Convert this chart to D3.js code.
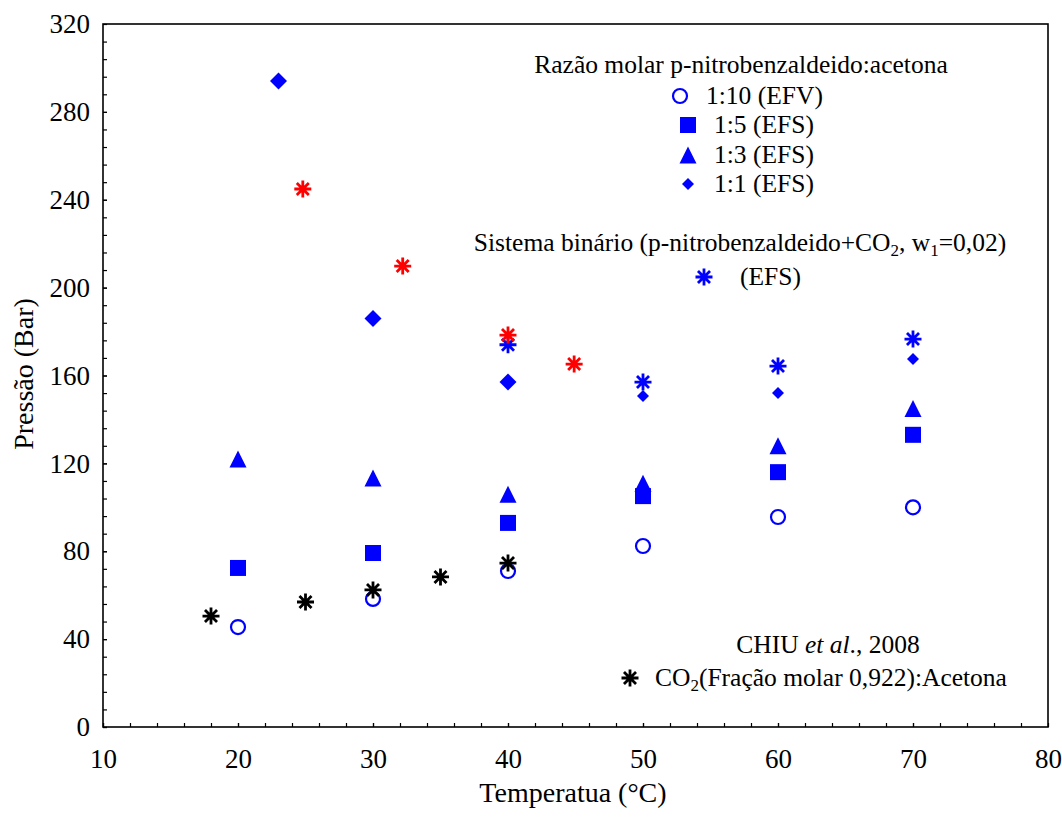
<!DOCTYPE html>
<html>
<head>
<meta charset="utf-8">
<script src="https://cdn.jsdelivr.net/npm/d3@7"></script>
<style>
  html, body { margin: 0; padding: 0; background: #fff; }
  svg text { font-family: "Liberation Serif", "Times New Roman", serif; fill: #000; }
</style>
</head>
<body>
<div id="chart"></div>
<script>
// Pressão x Temperatura - p-nitrobenzaldeido / acetona / CO2
const xTicks = [10, 20, 30, 40, 50, 60, 70, 80];
const yTicks = [0, 40, 80, 120, 160, 200, 240, 280, 320];

// razão molar 1:10 (EFV)
const temps110 = [20, 30, 40, 50, 60, 70];
const press110 = [45.5, 58.3, 71, 82.4, 95.6, 100];
// 1:5 (EFS)
const temps15 = [20, 30, 40, 50, 60, 70];
const press15 = [72.4, 79.2, 92.9, 105.1, 116, 133];
// 1:3 (EFS)
const temps13 = [20, 30, 40, 50, 60, 70];
const press13 = [122, 113.3, 106, 111, 128, 145];
// 1:1 (EFS) - first points drawn bigger in the original
const temps11a = [23, 30, 40];
const press11a = [294, 186, 157];
const temps11b = [50, 60, 70];
const press11b = [150.7, 152, 167.5];
// sistema binário (EFS), blue and red sets
const tempsBinBlue = [40, 50, 60, 70];
const pressBinBlue = [174, 157, 164.3, 176.6];
const tempsBinRed = [24.8, 32.2, 40, 44.9];
const pressBinRed = [244.9, 209.8, 178.4, 165.2];
// CHIU et al., 2008
const tempsChiu = [18, 25, 30, 35, 40];
const pressChiu = [50.5, 56.9, 62.4, 68.3, 74.6];

const BLUE = "#0000ff";
const RED = "#ff0000";

const width = 1062, height = 818;
const margin = { top: 24, right: 14, bottom: 91, left: 103 };

const svg = d3.select("#chart").append("svg")
  .attr("width", width).attr("height", height);

const x = d3.scaleLinear().domain([10, 80]).range([margin.left, width - margin.right]);
const y = d3.scaleLinear().domain([0, 320]).range([height - margin.bottom, margin.top]);

function pairs(ts, ps) {
  return ts.map((t, i) => ({ t, p: ps[i] }));
}

// asterisk with 8 spokes
function asteriskPath(r) {
  const d = r * Math.SQRT1_2;
  return `M0,${-r}L0,${r}M${-r},0L${r},0M${-d},${-d}L${d},${d}M${-d},${d}L${d},${-d}`;
}

function drawMarker(g, kind, color, size) {
  if (kind === "circle") {
    g.append("circle").attr("r", size / 2).attr("fill", "none")
      .attr("stroke", color).attr("stroke-width", 2.2);
  } else if (kind === "square") {
    g.append("rect").attr("x", -size / 2).attr("y", -size / 2)
      .attr("width", size).attr("height", size).attr("fill", color);
  } else if (kind === "triangle") {
    const h = size;
    g.append("path").attr("d", `M0,${-h / 2}L${size / 2},${h / 2}L${-size / 2},${h / 2}Z`)
      .attr("fill", color);
  } else if (kind === "diamond") {
    const r = size / 2;
    g.append("path").attr("d", `M0,${-r}L${r},0L0,${r}L${-r},0Z`).attr("fill", color);
  } else if (kind === "asterisk") {
    g.append("path").attr("d", asteriskPath(size / 2)).attr("fill", "none")
      .attr("stroke", color).attr("stroke-width", 2.8);
  }
}

// frame
svg.append("rect")
  .attr("x", x(10)).attr("y", y(320))
  .attr("width", x(80) - x(10)).attr("height", y(0) - y(320))
  .attr("fill", "none").attr("stroke", "#000").attr("stroke-width", 1.6);

// axes: inward ticks
const xAxis = svg.append("g").attr("transform", `translate(0,${y(0)})`)
  .call(d3.axisBottom(x).tickValues(xTicks).tickSize(-4).tickPadding(22).tickFormat(d3.format("d")));
const xMinor = svg.append("g").attr("transform", `translate(0,${y(0)})`)
  .call(d3.axisBottom(x).tickValues(d3.range(10, 80, 2)).tickSize(-4).tickFormat(""));
const yAxis = svg.append("g").attr("transform", `translate(${x(10)},0)`)
  .call(d3.axisLeft(y).tickValues(yTicks).tickSize(-4).tickPadding(13).tickFormat(d3.format("d")));
const yMinor = svg.append("g").attr("transform", `translate(${x(10)},0)`)
  .call(d3.axisLeft(y).tickValues(d3.range(0, 320, 8)).tickSize(-4).tickFormat(""));

[xAxis, xMinor, yAxis, yMinor].forEach((a) => {
  a.select(".domain").remove();
  a.selectAll("line").attr("stroke", "#000").attr("stroke-width", 1.2);
  a.selectAll("text").attr("font-size", 27).attr("font-family", null).attr("fill", "#000");
});

// axis titles
svg.append("text")
  .attr("x", 573).attr("y", 802)
  .attr("text-anchor", "middle").attr("font-size", 28)
  .text("Temperatua (°C)");
svg.append("text")
  .attr("transform", "translate(33,374) rotate(-90)")
  .attr("text-anchor", "middle").attr("font-size", 28)
  .text("Pressão (Bar)");

// data series
const series = [
  { data: pairs(temps110, press110), kind: "circle", color: BLUE, size: 14 },
  { data: pairs(temps15, press15), kind: "square", color: BLUE, size: 16 },
  { data: pairs(temps13, press13), kind: "triangle", color: BLUE, size: 17 },
  { data: pairs(temps11a, press11a), kind: "diamond", color: BLUE, size: 17 },
  { data: pairs(temps11b, press11b), kind: "diamond", color: BLUE, size: 12 },
  { data: pairs(tempsBinBlue, pressBinBlue), kind: "asterisk", color: BLUE, size: 17 },
  { data: pairs(tempsBinRed, pressBinRed), kind: "asterisk", color: RED, size: 17 },
  { data: pairs(tempsChiu, pressChiu), kind: "asterisk", color: "#000", size: 17 },
];

series.forEach((s) => {
  svg.append("g").selectAll("g")
    .data(s.data)
    .join("g")
    .attr("transform", (d) => `translate(${x(d.t)},${y(d.p)})`)
    .each(function () { drawMarker(d3.select(this), s.kind, s.color, s.size); });
});

// legends
const legendFont = 25.5;
const subFont = 17;
svg.append("text").attr("x", 741).attr("y", 73).attr("text-anchor", "middle")
  .attr("font-size", legendFont).text("Razão molar p-nitrobenzaldeido:acetona");

const legendRows = [
  { kind: "circle", size: 14, mx: 680, my: 96, tx: 706, label: "1:10 (EFV)" },
  { kind: "square", size: 16, mx: 688, my: 125, tx: 714, label: "1:5 (EFS)" },
  { kind: "triangle", size: 17, mx: 688, my: 155, tx: 714, label: "1:3 (EFS)" },
  { kind: "diamond", size: 12, mx: 688, my: 184, tx: 714, label: "1:1 (EFS)" },
];
legendRows.forEach((r) => {
  drawMarker(svg.append("g").attr("transform", `translate(${r.mx},${r.my})`), r.kind, BLUE, r.size);
  svg.append("text").attr("x", r.tx).attr("y", r.my + 8).attr("font-size", legendFont).text(r.label);
});

const sist = svg.append("text").attr("x", 740).attr("y", 251).attr("text-anchor", "middle")
  .attr("font-size", legendFont);
sist.append("tspan").text("Sistema binário (p-nitrobenzaldeido+CO");
sist.append("tspan").attr("font-size", subFont).attr("dy", 5).text("2");
sist.append("tspan").attr("dy", -5).text(", w");
sist.append("tspan").attr("font-size", subFont).attr("dy", 5).text("1");
sist.append("tspan").attr("dy", -5).text("=0,02)");

drawMarker(svg.append("g").attr("transform", "translate(704,277)"), "asterisk", BLUE, 17);
svg.append("text").attr("x", 740).attr("y", 285).attr("font-size", legendFont).text("(EFS)");

const chiu = svg.append("text").attr("x", 828).attr("y", 653).attr("text-anchor", "middle")
  .attr("font-size", legendFont);
chiu.append("tspan").text("CHIU ");
chiu.append("tspan").attr("font-style", "italic").text("et al");
chiu.append("tspan").text("., 2008");

drawMarker(svg.append("g").attr("transform", "translate(630,678)"), "asterisk", "#000", 17);
const co2 = svg.append("text").attr("x", 655).attr("y", 686).attr("font-size", legendFont);
co2.append("tspan").text("CO");
co2.append("tspan").attr("font-size", subFont).attr("dy", 5).text("2");
co2.append("tspan").attr("dy", -5).text("(Fração molar 0,922):Acetona");
</script>
</body>
</html>
